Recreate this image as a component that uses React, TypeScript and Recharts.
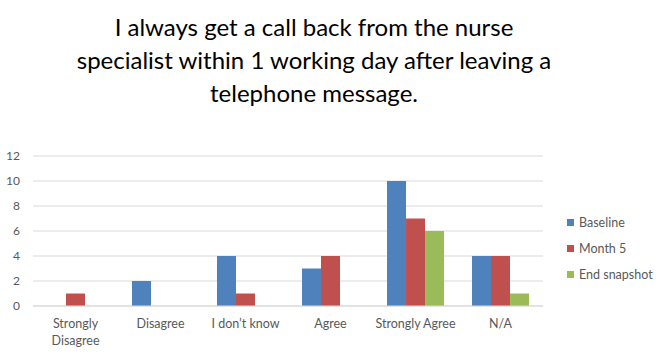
import React from "react";
import { BarChart, Bar, XAxis, YAxis, CartesianGrid } from "recharts";

// Survey response categories
const categories = ["Strongly Disagree", "Disagree", "I don\u2019t know", "Agree", "Strongly Agree", "N/A"];

// Response counts per survey round
const baseline = [0, 2, 4, 3, 10, 4];
const month5 = [1, 0, 1, 4, 7, 4];
const endSnapshot = [0, 0, 0, 0, 6, 1];

const yTicks = [0, 2, 4, 6, 8, 10, 12];

const titleLines = [
  "I always get a call back from the nurse",
  "specialist within 1 working day after leaving a",
  "telephone message.",
];

const seriesDefs = [
  { key: "baseline", name: "Baseline", color: "#4F81BD", values: baseline },
  { key: "month5", name: "Month 5", color: "#C0504D", values: month5 },
  { key: "end", name: "End snapshot", color: "#9BBB59", values: endSnapshot },
];

const data = categories.map((c, i) => {
  const row: Record<string, string | number> = { category: c };
  seriesDefs.forEach((s) => {
    row[s.key] = s.values[i];
  });
  return row;
});

const FONT = "Lato, 'Open Sans', sans-serif";
const MAX_LINE_CHARS = 15;

// Wrap long category names onto two lines at the last space
const wrapLabel = (label: string): string[] => {
  if (label.length <= MAX_LINE_CHARS) return [label];
  const cut = label.lastIndexOf(" ");
  return cut > 0 ? [label.slice(0, cut), label.slice(cut + 1)] : [label];
};

const CategoryTick = (props: any) => {
  const { x, y, payload } = props;
  const lines = wrapLabel(String(payload.value));
  return (
    <text
      x={x}
      y={y + 14}
      textAnchor="middle"
      fontSize={12.5}
      fontFamily={FONT}
      fill="#595959"
    >
      {lines.map((l, i) => (
        <tspan key={i} x={x} dy={i === 0 ? 0 : 17}>
          {l}
        </tspan>
      ))}
    </text>
  );
};

export default function App() {
  return (
    <div
      style={{
        position: "absolute",
        left: 0,
        top: 0,
        width: 670,
        height: 358,
        background: "#fff",
        fontFamily: FONT,
      }}
    >
      <div
        style={{
          position: "absolute",
          left: 0,
          top: 10,
          width: 628,
          textAlign: "center",
          fontSize: 24,
          lineHeight: "33px",
          color: "#000",
        }}
      >
        {titleLines.map((l) => (
          <div key={l}>{l}</div>
        ))}
      </div>
      <BarChart
        width={670}
        height={358}
        data={data}
        margin={{ top: 156, right: 127, bottom: 12, left: 0 }}
        barCategoryGap="16.5%"
        barGap={0}
      >
        <CartesianGrid vertical={false} stroke="#D9D9D9" />
        <XAxis
          dataKey="category"
          height={40}
          axisLine={{ stroke: "#D9D9D9" }}
          tickLine={false}
          tick={<CategoryTick />}
          interval={0}
        />
        <YAxis
          width={33}
          domain={[0, 12]}
          ticks={yTicks}
          axisLine={false}
          tickLine={false}
          tickSize={0}
          tickMargin={13}
          tick={{ fontSize: 12, fill: "#595959", fontFamily: FONT }}
        />
        {seriesDefs.map((s) => (
          <Bar key={s.key} dataKey={s.key} name={s.name} fill={s.color} isAnimationActive={false} />
        ))}
      </BarChart>
      <div style={{ position: "absolute", left: 567, top: 209 }}>
        {seriesDefs.map((s) => (
          <div
            key={s.key}
            style={{ display: "flex", alignItems: "center", height: 26, fontSize: 12.5, color: "#595959" }}
          >
            <span style={{ display: "inline-block", width: 7, height: 7, background: s.color, marginRight: 5 }} />
            {s.name}
          </div>
        ))}
      </div>
    </div>
  );
}
